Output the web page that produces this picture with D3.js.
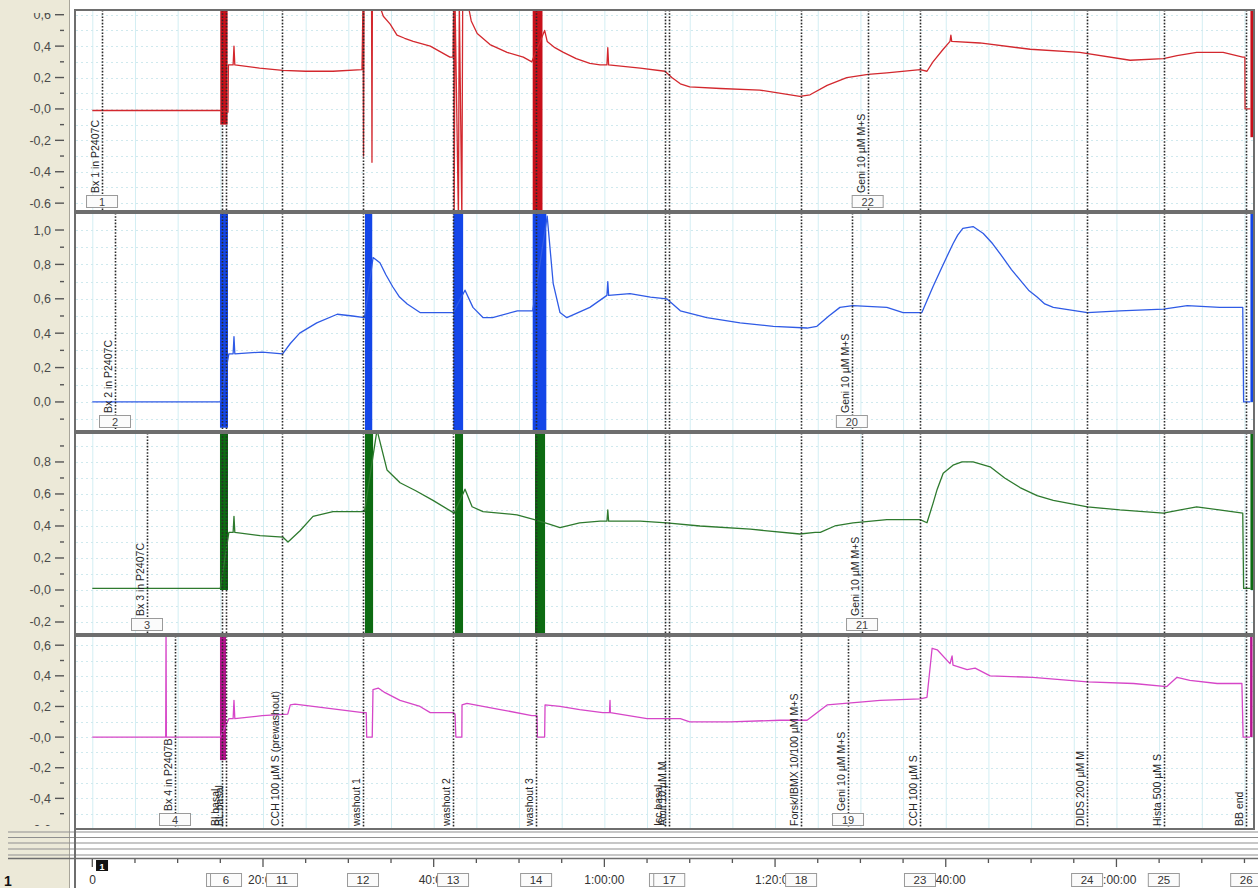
<!DOCTYPE html>
<html>
<head>
<meta charset="utf-8">
<script src="https://cdn.jsdelivr.net/npm/d3@7"></script>
<style>
  body { margin: 0; background: #fff; }
  svg { display: block; }
  text { font-family: "Liberation Sans", Arial, sans-serif; }
</style>
</head>
<body>
<svg id="chart" width="1258" height="888"></svg>
<script>
// time in minutes, values in the channel units
const ch1Trace = [
  [0,-0.01],[8,-0.01],[15.0,-0.01],
  [15.9,-0.02],[15.95,0.28],[16.5,0.28],[16.6,0.40],[16.7,0.28],[19.6,0.26],[22.3,0.245],[25,0.24],[28.2,0.24],[31.6,0.25],
  [31.72,0.7],[31.78,-0.3],[31.84,0.7],[32.72,0.7],[32.77,-0.34],[32.82,0.7],[33.4,0.7],
  [34.1,0.59],[34.9,0.54],[35.7,0.47],[36.6,0.45],[37.6,0.43],[39.6,0.40],[41.9,0.33],[42.27,0.33],
  [42.35,0.7],[42.4,-0.7],[42.5,0.7],[42.9,-0.7],[43.0,0.7],[43.3,-0.7],[43.4,0.7],[43.9,0.7],
  [44.4,0.56],[45.1,0.48],[46.6,0.41],[48.6,0.36],[50.5,0.33],[51.5,0.30],
  [53.0,0.50],[53.3,0.43],[54.2,0.39],[55.2,0.36],[56.7,0.32],[58.3,0.29],[59.5,0.28],[60.3,0.28],[60.4,0.39],[60.5,0.28],[64.2,0.26],
  [67.1,0.24],[67.9,0.20],[68.9,0.16],[70.0,0.14],[73.6,0.13],[78.2,0.12],[82.9,0.08],[84.1,0.09],[86.1,0.15],[88.4,0.20],
  [90.9,0.22],[93.1,0.23],[97.0,0.25],[97.8,0.24],[98.5,0.30],[99.7,0.38],[100.5,0.43],[100.6,0.47],[100.7,0.43],
  [104.0,0.42],[109.9,0.38],[115.7,0.36],[121.6,0.31],[125.5,0.32],[127.1,0.34],[129.4,0.36],[132.5,0.36],
  [134.8,0.33],[135.05,0.33],[135.07,0.0],[135.7,0.0]
];
const ch1Bursts = [[15.0,15.85,-0.1,0.7],[51.6,52.75,-0.7,0.7],[135.7,136.0,-0.18,0.7]];

const ch2Trace = [
  [0,0.0],[15.0,0.0],[16.0,0.28],[16.5,0.28],[16.6,0.38],[16.7,0.28],[19.9,0.29],[22.3,0.28],[23.2,0.34],[24.3,0.40],
  [26.3,0.46],[28.7,0.51],[30.5,0.50],[31.9,0.49],
  [32.9,0.84],[33.7,0.81],[34.4,0.74],[35.2,0.67],[36.0,0.61],[36.9,0.57],[38.4,0.52],[42.3,0.52],
  [43.67,0.65],[44.6,0.55],[45.8,0.49],[46.9,0.49],[49.8,0.53],[51.6,0.53],
  [53.3,1.08],[54.0,0.69],[54.8,0.52],[55.6,0.49],[58.3,0.55],[60.3,0.62],[60.4,0.70],[60.5,0.62],[63.0,0.63],
  [65.4,0.61],[67.3,0.60],[68.9,0.53],[72.0,0.49],[75.9,0.46],[79.8,0.44],[83.75,0.43],[84.9,0.44],[86.3,0.50],[87.6,0.55],
  [89.1,0.56],[93.1,0.55],[95.0,0.52],[97.2,0.52],[98.5,0.67],[99.7,0.80],[100.85,0.92],[101.4,0.97],[102.0,1.01],[103.2,1.02],[104.4,0.98],
  [105.5,0.92],[106.7,0.84],[107.7,0.77],[108.7,0.71],[109.7,0.65],[110.7,0.61],[111.6,0.57],[112.6,0.55],[116.6,0.52],[120.4,0.53],[125.5,0.54],[128.3,0.56],
  [132.1,0.55],[134.8,0.55],[134.9,0.0],[135.7,0.0]
];
const ch2Bursts = [[14.96,15.9,-0.15,1.2],[31.95,32.8,-0.2,1.2],[42.3,43.45,-0.2,1.2],[51.6,53.2,-0.2,1.2],[135.7,136.0,0.0,1.2]];

const ch3Trace = [
  [0,0.01],[15.0,0.01],[16.0,0.36],[16.5,0.36],[16.6,0.46],[16.7,0.36],[19.65,0.34],[22.35,0.33],[22.93,0.30],
  [24.34,0.37],[25.86,0.46],[28.2,0.49],[31.9,0.49],
  [33.36,1.0],[34.53,0.75],[36.06,0.67],[37.9,0.62],[39.92,0.56],[42.4,0.48],
  [43.67,0.63],[44.5,0.52],[45.78,0.49],[49.76,0.47],[51.8,0.44],
  [53.63,0.41],[54.8,0.39],[57.1,0.42],[59.5,0.43],[60.3,0.43],[60.4,0.50],[60.5,0.43],[64.2,0.43],[67.3,0.42],
  [71.2,0.40],[77.1,0.38],[82.9,0.35],[84.7,0.36],[85.3,0.36],[87.0,0.40],[89.14,0.42],[93.1,0.44],[97.0,0.44],
  [97.8,0.42],[98.5,0.54],[99.0,0.63],[99.7,0.73],[100.85,0.78],[101.9,0.80],[103.2,0.80],[105.2,0.77],[106.9,0.70],[108.7,0.64],[110.7,0.59],[112.6,0.56],
  [116.6,0.52],[120.4,0.50],[125.5,0.48],[129.4,0.52],[134.8,0.48],[134.9,0.01],[135.7,0.01]
];
const ch3Bursts = [[14.96,15.9,0.0,1.1],[31.95,32.9,-0.3,1.1],[42.5,43.44,-0.3,1.1],[51.87,53.05,-0.3,1.1],[135.7,136.0,0.0,1.1]];

const ch4Trace = [
  [0,0.0],[8.6,0.0],[8.64,0.7],[8.68,0.0],[15.0,0.0],
  [16.0,0.12],[16.5,0.12],[16.6,0.24],[16.7,0.12],[19.9,0.14],[22.9,0.15],[23.2,0.21],[23.75,0.215],[31.7,0.16],
  [32.1,0.16],[32.15,0.0],[32.8,0.0],[32.89,0.31],[33.5,0.32],[34.3,0.29],[36.06,0.24],[38.4,0.20],[39.6,0.16],
  [42.27,0.16],[42.5,0.15],[42.6,0.0],[43.3,0.0],[43.32,0.21],[43.9,0.22],[47.8,0.18],[51.5,0.14],[52.1,0.14],
  [52.15,0.0],[53.0,0.0],[53.05,0.21],[54.8,0.20],[57.1,0.18],[59.8,0.16],[60.6,0.16],[60.66,0.24],[60.7,0.16],
  [65.0,0.12],[68.9,0.12],[70.0,0.10],[74.7,0.10],[80.6,0.11],[83.75,0.11],[86.1,0.21],[90.3,0.23],[92.3,0.24],
  [97.0,0.25],[97.8,0.26],[98.4,0.58],[99.0,0.57],[100.5,0.48],[100.74,0.53],[100.85,0.47],[102.5,0.44],
  [103.44,0.45],[105.2,0.40],[110.2,0.39],[116.6,0.36],[122.0,0.35],[125.9,0.33],[127.1,0.39],[128.6,0.37],
  [131.8,0.35],[134.7,0.35],[134.84,0.0],[135.66,0.0]
];
const ch4Bursts = [[14.96,15.67,-0.15,0.7],[135.66,135.95,0.0,0.7]];

// comments shared by all channels (labelled in the last one); boxes of 5 and 16 lie hidden under 6 and 17
const eventNums = ["","6","11","12","13","14","","17","18","23","24","25","26"];
const eventTimes = [15.2,15.67,22.23,31.72,42.27,52.0,67.1,67.6,83.05,96.98,116.56,125.55,135.2];
const eventLabels = ["Bl.basal","BL.basal","CCH 100 µM S (prewashout)","washout 1","washout 2","washout 3",
  "Isc basal","Amil 10 µM M","Forsk/IBMX 10/100 µM M+S","CCH 100 µM S","DIDS 200 µM M","Hista 500 µM S","BB end"];

// comments on one channel only
const commentNums = ["1","22","2","20","3","21","4","19"];
const commentChannels = [0,0,1,1,2,2,3,3];
const commentTimes = [1.14,90.85,2.66,89.0,6.41,90.19,9.69,88.55];
const commentLabels = ["Bx 1 in P2407C","Geni 10 µM M+S","Bx 2 in P2407C","Geni 10 µM M+S",
  "Bx 3 in P2407C","Geni 10 µM M+S","Bx 4 in P2407B","Geni 10 µM M+S"];

// y axes
const yTicks = [
  [-0.6,-0.4,-0.2,0,0.2,0.4,0.6],
  [0,0.2,0.4,0.6,0.8,1.0],
  [-0.2,0,0.2,0.4,0.6,0.8],
  [-0.6,-0.4,-0.2,0,0.2,0.4,0.6]
];
const yTickLabels = [
  ["-0,6","-0,4","-0,2","-0,0","0,2","0,4","0,6"],
  ["0,0","0,2","0,4","0,6","0,8","1,0"],
  ["-0,2","-0,0","0,2","0,4","0,6","0,8"],
  ["-0,6","-0,4","-0,2","-0,0","0,2","0,4","0,6"]
];
const yDomains = [[-0.65,0.63],[-0.169,1.099],[-0.275,0.981],[-0.60,0.66]];

// time axis
const xMajorTicks = [0,20,40,60,80,100,120];
const xTickLabels = ["0","20:00","40:00","1:00:00","1:20:00","1:40:00","2:00:00"];

const traces = [ch1Trace, ch2Trace, ch3Trace, ch4Trace];
const bursts = [ch1Bursts, ch2Bursts, ch3Bursts, ch4Bursts];

// layout
const layout = [
  {top: 10, bottom: 211, line: "#d3282e", burst: "#c8101a"},
  {top: 213, bottom: 431, line: "#2f5be6", burst: "#1446e8"},
  {top: 433, bottom: 634, line: "#2e7a2e", burst: "#0d6b12"},
  {top: 636, bottom: 829, line: "#d646c8", burst: "#b5138f"}
];
const left = 76, right = 1253;

const svg = d3.select("#chart");
const x = d3.scaleLinear().domain([-1.91, 136.0]).range([left, right]);
const minorX = d3.range(0, 136, 5);

svg.append("rect").attr("width", 1258).attr("height", 888).attr("fill", "#fff");
svg.append("rect").attr("x", 0).attr("y", 0).attr("width", 69).attr("height", 888).attr("fill", "#ece9d8");
svg.append("line").attr("x1", 69.5).attr("x2", 69.5).attr("y1", 0).attr("y2", 888).attr("stroke", "#a8a59a");

const defs = svg.append("defs");

layout.forEach((p, i) => {
  const y = d3.scaleLinear().domain(yDomains[i]).range([p.bottom, p.top]);

  defs.append("clipPath").attr("id", "clip" + i)
    .append("rect").attr("x", left).attr("y", p.top).attr("width", right - left).attr("height", p.bottom - p.top);
  defs.append("clipPath").attr("id", "gclip" + i)
    .append("rect").attr("x", 0).attr("y", p.top + 3).attr("width", 70).attr("height", p.bottom - p.top - 6);

  const g = svg.append("g").attr("clip-path", `url(#clip${i})`);

  // grid
  g.selectAll(".vg").data(minorX).enter().append("line")
    .attr("x1", d => x(d) + 0.5).attr("x2", d => x(d) + 0.5)
    .attr("y1", p.top).attr("y2", p.bottom)
    .attr("stroke", "#d3eef3").attr("stroke-width", 1);
  const hg = d3.range(Math.ceil(yDomains[i][0] * 10), Math.floor(yDomains[i][1] * 10) + 1).map(d => d / 10);
  g.selectAll(".hg").data(hg).enter().append("line")
    .attr("x1", left).attr("x2", right)
    .attr("y1", d => Math.round(y(d)) + 0.5).attr("y2", d => Math.round(y(d)) + 0.5)
    .attr("stroke", "#cfe9ee").attr("stroke-dasharray", "2,3");

  // artefact bursts
  g.selectAll(".burst").data(bursts[i]).enter().append("rect")
    .attr("x", d => x(d[0])).attr("width", d => x(d[1]) - x(d[0]))
    .attr("y", d => y(d[3])).attr("height", d => y(d[2]) - y(d[3]))
    .attr("fill", p.burst);

  // trace
  const line = d3.line().x(d => x(d[0])).y(d => y(d[1]));
  g.append("path").datum(traces[i])
    .attr("d", line).attr("fill", "none")
    .attr("stroke", p.line).attr("stroke-width", 1.3).attr("stroke-linejoin", "round");

  // comment lines
  const own = commentTimes.filter((t, k) => commentChannels[k] === i);
  g.selectAll(".ev").data(eventTimes.concat(own)).enter().append("line")
    .attr("x1", d => Math.round(x(d)) + 0.5).attr("x2", d => Math.round(x(d)) + 0.5)
    .attr("y1", p.top).attr("y2", p.bottom)
    .attr("stroke", "#2a2a2a").attr("stroke-width", 1.6).attr("stroke-dasharray", "1.6,1.6");

  // frame
  svg.append("rect").attr("x", left - 1).attr("y", p.top).attr("width", right - left + 2).attr("height", p.bottom - p.top)
    .attr("fill", "none").attr("stroke", "#6e6e6e").attr("stroke-width", 2);

  // y axis in the gutter
  const ga = svg.append("g").attr("clip-path", `url(#gclip${i})`);
  const minors = d3.range(Math.ceil(yDomains[i][0] * 10), Math.floor(yDomains[i][1] * 10) + 1)
    .filter(d => Math.abs(d % 2) === 1).map(d => d / 10);
  ga.selectAll(".mt").data(minors).enter().append("line")
    .attr("x1", 60).attr("x2", 64).attr("y1", d => y(d)).attr("y2", d => y(d))
    .attr("stroke", "#555").attr("stroke-width", 1.4);
  ga.selectAll(".Mt").data(yTicks[i]).enter().append("line")
    .attr("x1", 55).attr("x2", 64).attr("y1", d => y(d)).attr("y2", d => y(d))
    .attr("stroke", "#555").attr("stroke-width", 1.4);
  ga.selectAll(".tl").data(yTicks[i]).enter().append("text")
    .attr("x", 51).attr("y", d => y(d) + 4.5)
    .attr("text-anchor", "end").attr("font-size", 12.5).attr("fill", "#4a4a4a")
    .text((d, k) => yTickLabels[i][k]);
});

// labels of the shared comments in the last channel
const p4 = layout[3];
svg.selectAll(".evl").data(eventTimes).enter().append("text")
  .attr("transform", d => `translate(${x(d) - 3},${p4.bottom - 3}) rotate(-90)`)
  .attr("font-size", 10.5).attr("fill", "#262626")
  .text((d, k) => eventLabels[k]);

// channel comments: label + numbered box
commentTimes.forEach((t, k) => {
  const p = layout[commentChannels[k]];
  const cx = x(t);
  svg.append("rect").attr("x", cx - 15.5).attr("y", p.bottom - 15.5).attr("width", 31).attr("height", 12)
    .attr("fill", "#fbfbfb").attr("stroke", "#9a9a9a");
  svg.append("text").attr("x", cx).attr("y", p.bottom - 5.5).attr("text-anchor", "middle")
    .attr("font-size", 11).attr("fill", "#444").text(commentNums[k]);
  svg.append("text")
    .attr("transform", `translate(${cx - 3},${p.bottom - 18}) rotate(-90)`)
    .attr("font-size", 10.5).attr("fill", "#262626").text(commentLabels[k]);
});

// separator between channels and time axis
[832, 837.5, 843, 849, 855].forEach(yy => {
  svg.append("line").attr("x1", 8).attr("x2", 1258).attr("y1", yy).attr("y2", yy)
    .attr("stroke", "#8f8f8f").attr("stroke-width", 1.2);
});
svg.append("line").attr("x1", 8).attr("x2", 1258).attr("y1", 858.5).attr("y2", 858.5).attr("stroke", "#6e6e6e").attr("stroke-width", 1.5);
svg.append("line").attr("x1", left - 1).attr("x2", left - 1).attr("y1", 829).attr("y2", 888).attr("stroke", "#6e6e6e").attr("stroke-width", 2);

// time axis
svg.selectAll(".xt").data(minorX).enter().append("line")
  .attr("x1", d => x(d)).attr("x2", d => x(d))
  .attr("y1", 859).attr("y2", d => xMajorTicks.includes(d) ? 867 : 863)
  .attr("stroke", "#555").attr("stroke-width", 1.3);
svg.selectAll(".xl").data(xMajorTicks).enter().append("text")
  .attr("x", d => x(d)).attr("y", 884).attr("text-anchor", d => d === 0 ? "start" : "middle")
  .attr("dx", d => d === 0 ? -3 : 0)
  .attr("font-size", 12).attr("fill", "#333")
  .text((d, k) => xTickLabels[k]);

// numbered boxes of the shared comments
eventTimes.forEach((t, k) => {
  const cx = x(t);
  svg.append("rect").attr("x", cx - 15.5).attr("y", 873.5).attr("width", 31).attr("height", 13)
    .attr("fill", "#fbfbfb").attr("stroke", "#9a9a9a");
  if (eventNums[k]) {
    svg.append("text").attr("x", cx).attr("y", 884).attr("text-anchor", "middle")
      .attr("font-size", 11.5).attr("fill", "#333").text(eventNums[k]);
  }
});

// first comment marker on the time axis
svg.append("rect").attr("x", x(commentTimes[0]) - 6).attr("y", 860).attr("width", 12).attr("height", 11).attr("fill", "#111");
svg.append("text").attr("x", x(commentTimes[0])).attr("y", 869.5).attr("text-anchor", "middle")
  .attr("font-size", 9).attr("font-weight", "bold").attr("fill", "#fff").text("1");
svg.append("text").attr("x", 4).attr("y", 886).attr("font-size", 14).attr("font-weight", "bold").attr("fill", "#111").text("1");
</script>
</body>
</html>
